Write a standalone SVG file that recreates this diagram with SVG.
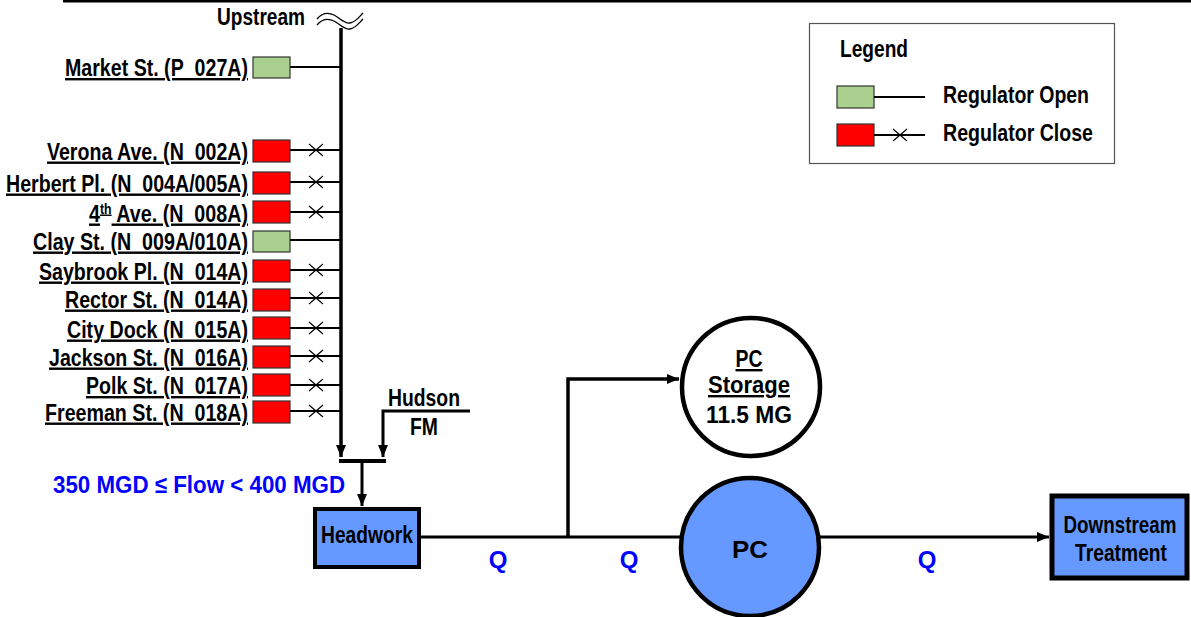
<svg xmlns="http://www.w3.org/2000/svg" width="1191" height="617" viewBox="0 0 1191 617">
<style>
.t{font-family:"Liberation Sans Narrow","Liberation Sans",Arial,sans-serif;font-weight:bold;font-size:24px;fill:#000}
.u{text-decoration:underline}
.b{fill:#0000FF}
.ln{stroke:#000;fill:none}
.red{fill:#FF0000;stroke:#333;stroke-width:1.2}
.grn{fill:#A9D08E;stroke:#333;stroke-width:1.2}
.xm{stroke:#000;stroke-width:1.2}
</style>
<defs>
<marker id="ah" markerUnits="userSpaceOnUse" markerWidth="12" markerHeight="12" viewBox="0 0 12 12" refX="12" refY="6" orient="auto">
<path d="M0,1 L12,6 L0,11 z" fill="#000"/>
</marker>
<g id="xmark"><path class="xm" d="M-7,-6 L7,6 M-7,6 L7,-6"/></g>
</defs>
<rect width="1191" height="617" fill="#fff"/>
<line x1="63" y1="1.2" x2="1191" y2="1.2" stroke="#000" stroke-width="2.5"/>

<g id="upstream">
<text class="t" x="305" y="25" text-anchor="end" textLength="88" lengthAdjust="spacingAndGlyphs">Upstream</text>
<path class="ln" stroke-width="1.3" d="M317,19 C322,13 328,12 334,15 S344,24 350,23 S358,18 363,13"/>
<path class="ln" stroke-width="1.3" d="M317,25 C322,19 328,18 334,21 S344,30 350,29 S358,24 363,19"/>
</g>

<g id="connectors">
<path class="ln" stroke-width="3.5" d="M341,28 V457" marker-end="url(#ah)"/>
<path class="ln" stroke-width="3" d="M470,411 H383 V457" marker-end="url(#ah)"/>
<path class="ln" stroke-width="4" d="M339,461 H386"/>
<path class="ln" stroke-width="3" d="M362,461 V506" marker-end="url(#ah)"/>
<path class="ln" stroke-width="3" d="M420,537 H681"/>
<path class="ln" stroke-width="3.5" d="M568,537 V379 H679" marker-end="url(#ah)"/>
<path class="ln" stroke-width="3" d="M820,537 H1049" marker-end="url(#ah)"/>
<g stroke="#000" stroke-width="2">
<line x1="290" y1="67" x2="341" y2="67"/>
<line x1="290" y1="150" x2="341" y2="150"/>
<line x1="290" y1="182" x2="341" y2="182"/>
<line x1="290" y1="212" x2="341" y2="212"/>
<line x1="290" y1="240" x2="341" y2="240"/>
<line x1="290" y1="270" x2="341" y2="270"/>
<line x1="290" y1="298" x2="341" y2="298"/>
<line x1="290" y1="328" x2="341" y2="328"/>
<line x1="290" y1="356" x2="341" y2="356"/>
<line x1="290" y1="385" x2="341" y2="385"/>
<line x1="290" y1="411" x2="341" y2="411"/>
</g>
</g>

<g id="reg-market"><rect class="grn" x="253" y="57" width="37" height="21"/><text class="t u" x="248" y="76" text-anchor="end" textLength="183" lengthAdjust="spacingAndGlyphs">Market St. (P_027A)</text></g>
<g id="reg-verona"><rect class="red" x="253" y="140" width="37" height="22"/><use href="#xmark" x="316" y="150"/><text class="t u" x="248" y="159.5" text-anchor="end" textLength="201" lengthAdjust="spacingAndGlyphs">Verona Ave. (N_002A)</text></g>
<g id="reg-herbert"><rect class="red" x="253" y="172" width="37" height="22"/><use href="#xmark" x="316" y="182"/><text class="t u" x="248" y="191.5" text-anchor="end" textLength="242" lengthAdjust="spacingAndGlyphs">Herbert Pl. (N_004A/005A)</text></g>
<g id="reg-4th"><rect class="red" x="253" y="201" width="37" height="22"/><use href="#xmark" x="316" y="212"/><text class="t u" x="248" y="221.5" text-anchor="end" textLength="159" lengthAdjust="spacingAndGlyphs">4<tspan font-size="15" dy="-8">th</tspan><tspan dy="8"> Ave. (N_008A)</tspan></text></g>
<g id="reg-clay"><rect class="grn" x="253" y="231" width="37" height="21"/><text class="t u" x="248" y="249.5" text-anchor="end" textLength="215" lengthAdjust="spacingAndGlyphs">Clay St. (N_009A/010A)</text></g>
<g id="reg-saybrook"><rect class="red" x="253" y="260" width="37" height="22"/><use href="#xmark" x="316" y="270"/><text class="t u" x="248" y="279.5" text-anchor="end" textLength="209" lengthAdjust="spacingAndGlyphs">Saybrook Pl. (N_014A)</text></g>
<g id="reg-rector"><rect class="red" x="253" y="289" width="37" height="22"/><use href="#xmark" x="316" y="298"/><text class="t u" x="248" y="307.5" text-anchor="end" textLength="183" lengthAdjust="spacingAndGlyphs">Rector St. (N_014A)</text></g>
<g id="reg-citydock"><rect class="red" x="253" y="317" width="37" height="22"/><use href="#xmark" x="316" y="328"/><text class="t u" x="248" y="337.5" text-anchor="end" textLength="181" lengthAdjust="spacingAndGlyphs">City Dock (N_015A)</text></g>
<g id="reg-jackson"><rect class="red" x="253" y="346" width="37" height="22"/><use href="#xmark" x="316" y="356"/><text class="t u" x="248" y="365.5" text-anchor="end" textLength="199" lengthAdjust="spacingAndGlyphs">Jackson St. (N_016A)</text></g>
<g id="reg-polk"><rect class="red" x="253" y="374" width="37" height="22"/><use href="#xmark" x="316" y="385"/><text class="t u" x="248" y="394" text-anchor="end" textLength="162" lengthAdjust="spacingAndGlyphs">Polk St. (N_017A)</text></g>
<g id="reg-freeman"><rect class="red" x="253" y="401" width="37" height="22"/><use href="#xmark" x="316" y="411"/><text class="t u" x="248" y="420.5" text-anchor="end" textLength="203" lengthAdjust="spacingAndGlyphs">Freeman St. (N_018A)</text></g>

<g id="hudson">
<text class="t" x="424" y="406" text-anchor="middle" textLength="72" lengthAdjust="spacingAndGlyphs">Hudson</text>
<text class="t" x="424" y="435" text-anchor="middle" textLength="28" lengthAdjust="spacingAndGlyphs">FM</text>
</g>

<text class="t b" x="53" y="493" textLength="292" lengthAdjust="spacingAndGlyphs">350 MGD ≤ Flow &lt; 400 MGD</text>

<g id="headwork">
<rect x="315" y="509" width="104" height="58" fill="#6699FF" stroke="#000" stroke-width="4"/>
<text class="t" x="367" y="543" text-anchor="middle" font-size="21" textLength="92" lengthAdjust="spacingAndGlyphs">Headwork</text>
</g>

<g id="storage">
<circle cx="751" cy="387" r="69" fill="#fff" stroke="#000" stroke-width="4.5"/>
<text class="t u" x="749" y="367" text-anchor="middle" textLength="27" lengthAdjust="spacingAndGlyphs">PC</text>
<text class="t u" x="749" y="393" text-anchor="middle" font-size="26" textLength="82" lengthAdjust="spacingAndGlyphs">Storage</text>
<text class="t" x="749" y="423" text-anchor="middle" font-size="27" textLength="86" lengthAdjust="spacingAndGlyphs">11.5 MG</text>
</g>

<g id="pc">
<circle cx="750" cy="547" r="69" fill="#6699FF" stroke="#000" stroke-width="4.5"/>
<text class="t" x="750" y="558" text-anchor="middle" textLength="36" lengthAdjust="spacingAndGlyphs">PC</text>
</g>

<g id="downstream">
<rect x="1052" y="496" width="135" height="82" fill="#6699FF" stroke="#000" stroke-width="5"/>
<text class="t" x="1120" y="533" text-anchor="middle" font-size="22" textLength="113" lengthAdjust="spacingAndGlyphs">Downstream</text>
<text class="t" x="1121" y="561" text-anchor="middle" font-size="22" textLength="92" lengthAdjust="spacingAndGlyphs">Treatment</text>
</g>

<g id="q-labels">
<text class="t b" x="498" y="568" text-anchor="middle">Q</text>
<text class="t b" x="629" y="568" text-anchor="middle">Q</text>
<text class="t b" x="927" y="568" text-anchor="middle">Q</text>
</g>

<g id="legend">
<rect x="809.5" y="23.5" width="305" height="140" fill="#fff" stroke="#555" stroke-width="1.2"/>
<text class="t" x="840" y="57" font-size="22" textLength="68" lengthAdjust="spacingAndGlyphs">Legend</text>
<rect class="grn" x="837" y="86" width="37" height="22"/>
<line x1="874" y1="97" x2="925" y2="97" stroke="#000" stroke-width="2"/>
<text class="t" x="943" y="103" font-size="22" textLength="146" lengthAdjust="spacingAndGlyphs">Regulator Open</text>
<rect class="red" x="837" y="124" width="37" height="22"/>
<line x1="874" y1="135" x2="925" y2="135" stroke="#000" stroke-width="2"/>
<use href="#xmark" x="900" y="135"/>
<text class="t" x="943" y="141" font-size="22" textLength="150" lengthAdjust="spacingAndGlyphs">Regulator Close</text>
</g>
</svg>
